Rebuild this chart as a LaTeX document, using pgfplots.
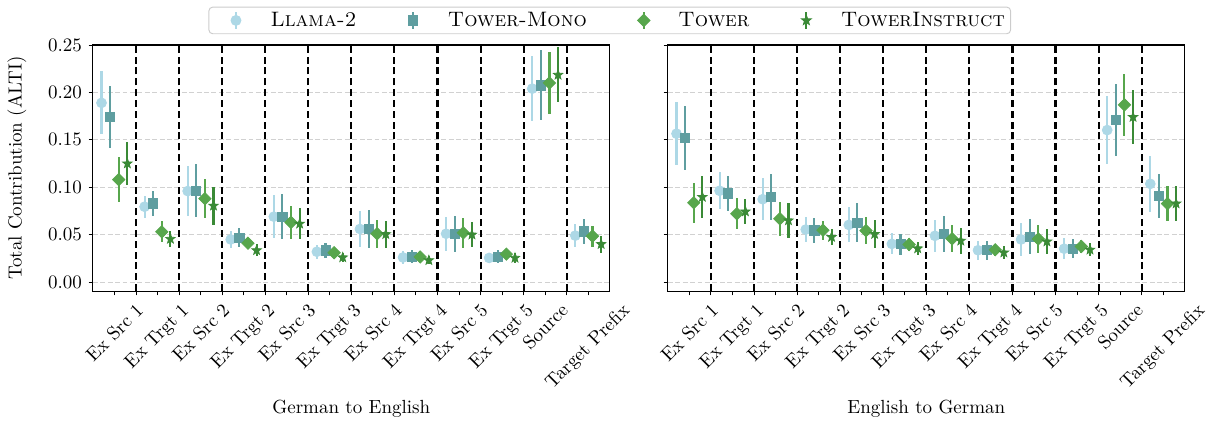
\documentclass[border=0pt]{standalone}
\usepackage{graphicx}
\usepackage{pgfplots}
\pgfplotsset{compat=1.18}
\usepackage{pgfplotstable}

\definecolor{llama}{HTML}{ADD8E6}
\definecolor{mono}{HTML}{5F9EA0}
\definecolor{tower}{HTML}{57A64C}
\definecolor{instr}{HTML}{3A8A36}

% filled five-point star, like matplotlib's '*'
\pgfdeclareplotmark{fstar}{%
  \pgfpathmoveto{\pgfqpoint{0pt}{\pgfplotmarksize}}%
  \pgfpathlineto{\pgfqpoint{-0.247\pgfplotmarksize}{0.340\pgfplotmarksize}}%
  \pgfpathlineto{\pgfqpoint{-0.951\pgfplotmarksize}{0.309\pgfplotmarksize}}%
  \pgfpathlineto{\pgfqpoint{-0.399\pgfplotmarksize}{-0.130\pgfplotmarksize}}%
  \pgfpathlineto{\pgfqpoint{-0.588\pgfplotmarksize}{-0.809\pgfplotmarksize}}%
  \pgfpathlineto{\pgfqpoint{0pt}{-0.420\pgfplotmarksize}}%
  \pgfpathlineto{\pgfqpoint{0.588\pgfplotmarksize}{-0.809\pgfplotmarksize}}%
  \pgfpathlineto{\pgfqpoint{0.399\pgfplotmarksize}{-0.130\pgfplotmarksize}}%
  \pgfpathlineto{\pgfqpoint{0.951\pgfplotmarksize}{0.309\pgfplotmarksize}}%
  \pgfpathlineto{\pgfqpoint{0.247\pgfplotmarksize}{0.340\pgfplotmarksize}}%
  \pgfpathclose
  \pgfusepathqfillstroke}

\newcommand{\rl}[1]{\rotatebox{45}{#1}}

% German to English: x, mean and error for each model
\pgfplotstableread{
x  l      le     m      me     t      te     i      ie
0  0.189  0.0333 0.174  0.033  0.108  0.0234 0.125  0.023
1  0.0795 0.0114 0.083  0.013  0.053  0.011  0.0455 0.0083
2  0.096  0.0265 0.0965 0.0278 0.088  0.0207 0.0805 0.020
3  0.045  0.0092 0.047  0.0097 0.041  0.0053 0.0335 0.0062
4  0.069  0.0224 0.069  0.0237 0.063  0.0172 0.0615 0.0164
5  0.032  0.0074 0.0335 0.008  0.031  0.005  0.026  0.0044
6  0.056  0.0193 0.056  0.020  0.051  0.0148 0.0505 0.0144
7  0.026  0.0065 0.027  0.007  0.0265 0.005  0.023  0.0044
8  0.051  0.018  0.051  0.019  0.052  0.016  0.050  0.0135
9  0.0255 0.005  0.027  0.007  0.0295 0.0055 0.0255 0.005
10 0.204  0.034  0.2075 0.037  0.210  0.033  0.2185 0.029
11 0.049  0.012  0.0535 0.013  0.0485 0.011  0.040  0.009
}\deen

% English to German
\pgfplotstableread{
x  l      le     m      me     t      te     i      ie
0  0.1565 0.033  0.152  0.034  0.0837 0.021  0.0897 0.0225
1  0.0963 0.0193 0.0935 0.0183 0.0721 0.0162 0.0744 0.0132
2  0.0874 0.022  0.0895 0.024  0.0668 0.018  0.065  0.018
3  0.0554 0.0135 0.0545 0.0128 0.0547 0.010  0.0475 0.008
4  0.0603 0.0185 0.0627 0.0202 0.0543 0.0146 0.0506 0.0146
5  0.0403 0.011  0.040  0.011  0.0397 0.007  0.0355 0.007
6  0.0488 0.0172 0.051  0.0188 0.0457 0.0144 0.0436 0.0137
7  0.0336 0.0098 0.0336 0.010  0.0341 0.0063 0.0311 0.0067
8  0.045  0.0176 0.0478 0.0186 0.0455 0.0146 0.0427 0.0132
9  0.0352 0.0109 0.0352 0.0102 0.0376 0.0065 0.0341 0.007
10 0.1603 0.0359 0.1709 0.038  0.1869 0.0325 0.174  0.0285
11 0.1036 0.0294 0.0906 0.0234 0.0828 0.0185 0.0828 0.0186
}\ende

\pgfplotsset{
  panel/.style={
    scale only axis, width=272pt, height=129.5pt,
    xmin=-0.5, xmax=11.5, ymin=-0.0095, ymax=0.25,
    xtick={0,...,11},
    xticklabels={\rl{Ex Src 1},\rl{Ex Trgt 1},\rl{Ex Src 2},\rl{Ex Trgt 2},\rl{Ex Src 3},\rl{Ex Trgt 3},\rl{Ex Src 4},\rl{Ex Trgt 4},\rl{Ex Src 5},\rl{Ex Trgt 5},\rl{Source},\rl{Target Prefix}},
    xticklabel style={anchor=north},
    ytick={0,0.05,0.1,0.15,0.2,0.25},
    scaled y ticks=false,
    yticklabel style={/pgf/number format/.cd, fixed, fixed zerofill, precision=2},
    tick align=outside, xtick pos=lower, ytick pos=left,
    major tick length=2.3pt,
    every tick/.style={black, line width=0.5pt},
    axis line style={line width=0.6pt},
    ymajorgrids,
    major grid style={black!18, dash pattern=on 2.6pt off 1.3pt, line width=0.5pt},
    extra x ticks={0.5,1.5,2.5,3.5,4.5,5.5,6.5,7.5,8.5,9.5,10.5},
    extra x tick labels={},
    extra x tick style={grid=major, major grid style={black, dash pattern=on 3.7pt off 2pt, line width=1.1pt}},
    xlabel style={at={(axis description cs:0.5,-0.479)}, anchor=center},
  },
  sl/.style={only marks, color=llama, mark=*, mark size=2.6pt,
    error bars/.cd, y dir=both, y explicit, error mark=none, error bar style={line width=1.1pt, llama}},
  sm/.style={only marks, color=mono, mark=square*, mark size=2.4pt,
    error bars/.cd, y dir=both, y explicit, error mark=none, error bar style={line width=1.1pt, mono}},
  st/.style={only marks, color=tower, mark=square*, mark size=2.3pt, mark options={rotate=45},
    error bars/.cd, y dir=both, y explicit, error mark=none, error bar style={line width=1.1pt, tower}},
  si/.style={only marks, color=instr, mark=fstar, mark size=2.6pt,
    error bars/.cd, y dir=both, y explicit, error mark=none, error bar style={line width=1.1pt, instr}},
}

\begin{document}
\begin{tikzpicture}
\path[use as bounding box] (-48.9pt,-69.5pt) rectangle (587.9pt,153.2pt);

\begin{axis}[panel, at={(0pt,0pt)}, anchor=south west,
  xlabel={German to English},
  ylabel={Total Contribution (ALTI)},
  ylabel style={at={(axis description cs:-0.147,0.5)}, anchor=center},
  legend image code/.code={%
    \draw[#1, mark=none, sharp corners, line width=1.1pt] (0pt,-4.5pt) -- (0pt,4.5pt);
    \draw[#1, sharp corners] plot coordinates {(0pt,0pt)};
    \path (-13pt,0pt) (16pt,0pt);},
  legend style={at={(1.0,1.1)}, anchor=center, legend columns=4,
    font=\fontsize{11}{13}\selectfont, draw=black!20, rounded corners=2pt,
    line width=0.5pt, inner xsep=1pt, inner ysep=0.5pt,
    /tikz/every even column/.append style={column sep=14.7pt},
    cells={anchor=west}},
]
\addplot[sl] table[x expr=\thisrow{x}-0.3, y=l, y error=le] {\deen};
\addplot[sm] table[x expr=\thisrow{x}-0.1, y=m, y error=me] {\deen};
\addplot[st] table[x expr=\thisrow{x}+0.1, y=t, y error=te] {\deen};
\addplot[si] table[x expr=\thisrow{x}+0.3, y=i, y error=ie] {\deen};
\legend{\textsc{Llama-2},\textsc{Tower-Mono},\textsc{Tower},\textsc{TowerInstruct}}
\end{axis}

\begin{axis}[panel, at={(302.6pt,0pt)}, anchor=south west,
  xlabel={English to German},
  yticklabels={},
]
\addplot[sl] table[x expr=\thisrow{x}-0.3, y=l, y error=le] {\ende};
\addplot[sm] table[x expr=\thisrow{x}-0.1, y=m, y error=me] {\ende};
\addplot[st] table[x expr=\thisrow{x}+0.1, y=t, y error=te] {\ende};
\addplot[si] table[x expr=\thisrow{x}+0.3, y=i, y error=ie] {\ende};
\end{axis}
\end{tikzpicture}
\end{document}
